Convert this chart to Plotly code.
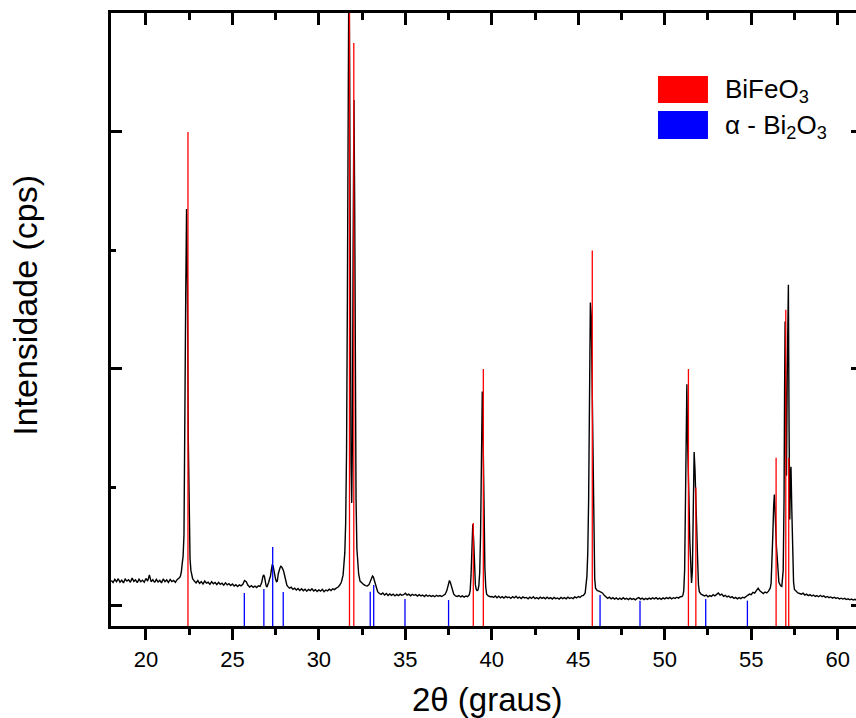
import plotly.graph_objects as go

# ---------------- data ----------------
two_theta = [
    18.0, 18.1, 18.2, 18.3, 18.4, 18.5, 18.6, 18.7, 18.8, 18.9,
    19.0, 19.1, 19.2, 19.3, 19.4, 19.5, 19.6, 19.7, 19.8, 19.9,
    20.0, 20.1, 20.2, 20.3, 20.4, 20.5, 20.6, 20.7, 20.8, 20.9,
    21.0, 21.1, 21.2, 21.3, 21.4, 21.5, 21.6, 21.7, 21.8, 21.9,
    21.95, 22.0, 22.05, 22.1, 22.15, 22.2, 22.25, 22.3, 22.35, 22.4,
    22.45, 22.5, 22.55, 22.6, 22.65, 22.7,
    22.8, 22.9, 23.0, 23.1, 23.2, 23.3, 23.4, 23.5, 23.6, 23.7,
    23.8, 23.9, 24.0, 24.1, 24.2, 24.3, 24.4, 24.5, 24.6, 24.7,
    24.8, 24.9, 25.0, 25.1, 25.2, 25.3, 25.4, 25.5, 25.6, 25.7,
    25.8, 25.9, 26.0, 26.1, 26.2, 26.3, 26.4, 26.5, 26.6,
    26.7, 26.75, 26.8, 26.85, 26.9, 26.95, 27.0, 27.05, 27.1, 27.15,
    27.2, 27.25, 27.3, 27.35, 27.4, 27.45, 27.5, 27.55, 27.6, 27.65,
    27.7, 27.75, 27.8, 27.85, 27.9, 27.95, 28.0, 28.05, 28.1, 28.15,
    28.2, 28.3, 28.4, 28.5, 28.6, 28.7, 28.8, 28.9, 29.0, 29.1,
    29.2, 29.3, 29.4, 29.5, 29.6, 29.7, 29.8, 29.9, 30.0, 30.1,
    30.2, 30.3, 30.4, 30.5, 30.6, 30.7, 30.8, 30.9, 31.0, 31.1,
    31.2, 31.3, 31.4, 31.45, 31.5, 31.55, 31.6, 31.65, 31.7, 31.74,
    31.78, 31.82, 31.86, 31.9, 31.94, 31.98, 32.03, 32.07, 32.11, 32.15,
    32.2, 32.25, 32.3, 32.38, 32.5, 32.6, 32.7, 32.8, 32.9, 33.0,
    33.05, 33.1, 33.15, 33.2, 33.3, 33.4, 33.5, 33.6, 33.7, 33.8,
    33.9, 34.0, 34.1, 34.2, 34.3, 34.4, 34.5, 34.6, 34.7, 34.8,
    34.9, 35.0, 35.1, 35.2, 35.3, 35.4, 35.5, 35.6, 35.7, 35.8,
    35.9, 36.0, 36.1, 36.2, 36.3, 36.4, 36.5, 36.6, 36.7, 36.8,
    36.9, 37.0, 37.1, 37.2, 37.3, 37.4, 37.5, 37.55, 37.6, 37.7,
    37.8, 37.9, 38.0, 38.1, 38.2, 38.3, 38.4, 38.5, 38.6, 38.7,
    38.75, 38.8, 38.85, 38.9, 38.95, 39.0, 39.05, 39.1, 39.15, 39.2,
    39.25, 39.3, 39.35, 39.4, 39.45, 39.5, 39.55, 39.6, 39.65, 39.7,
    39.8, 39.9,
    40.0, 40.1, 40.2, 40.3, 40.4, 40.5, 40.6, 40.7, 40.8, 40.9,
    41.0, 41.1, 41.2, 41.3, 41.4, 41.5, 41.6, 41.7, 41.8, 41.9,
    42.0, 42.1, 42.2, 42.3, 42.4, 42.5, 42.6, 42.7, 42.8, 42.9,
    43.0, 43.1, 43.2, 43.3, 43.4, 43.5, 43.6, 43.7, 43.8, 43.9,
    44.0, 44.1, 44.2, 44.3, 44.4, 44.5, 44.6, 44.7, 44.8, 44.9,
    45.0, 45.1, 45.2, 45.3, 45.4, 45.45, 45.5, 45.55, 45.6, 45.65,
    45.7, 45.75, 45.8, 45.85, 45.9, 45.95, 46.0, 46.1, 46.2, 46.3,
    46.4, 46.5,
    46.6, 46.7, 46.8, 46.9, 47.0, 47.1, 47.2, 47.3, 47.4, 47.5,
    47.6, 47.7, 47.8, 47.9, 48.0, 48.1, 48.2, 48.3, 48.4, 48.5,
    48.6, 48.7, 48.8, 48.9, 49.0, 49.1, 49.2, 49.3, 49.4, 49.5,
    49.6, 49.7, 49.8, 49.9, 50.0, 50.1, 50.2, 50.3, 50.4, 50.5,
    50.6, 50.7, 50.8, 50.9, 51.0,
    51.05, 51.1, 51.15, 51.2, 51.25, 51.28, 51.32, 51.36, 51.4, 51.45,
    51.5, 51.55, 51.6, 51.65, 51.7, 51.75, 51.8, 51.85, 51.9, 51.95,
    52.0, 52.1,
    52.2, 52.3, 52.4, 52.5, 52.6, 52.7, 52.8, 52.9, 53.0, 53.1,
    53.2, 53.3, 53.4, 53.5, 53.6, 53.7, 53.8, 53.9, 54.0, 54.1,
    54.2, 54.3, 54.4, 54.5, 54.6, 54.7, 54.8, 54.9, 55.0, 55.1,
    55.2, 55.3, 55.4, 55.5, 55.6, 55.7, 55.8, 55.9, 56.0, 56.05,
    56.1, 56.15, 56.2, 56.25, 56.3, 56.34, 56.38, 56.42, 56.46, 56.5,
    56.55, 56.6, 56.7, 56.77, 56.85, 56.9, 56.93, 56.96, 57.0, 57.04,
    57.08, 57.12, 57.15, 57.19, 57.23, 57.27, 57.3, 57.35, 57.4, 57.45,
    57.5, 57.6, 57.7, 57.8, 57.9,
    58.0, 58.1, 58.2, 58.3, 58.4, 58.5, 58.6, 58.7, 58.8, 58.9,
    59.0, 59.1, 59.2, 59.3, 59.4, 59.5, 59.6, 59.7, 59.8, 59.9,
    60.0, 60.1, 60.2, 60.3, 60.4, 60.5, 60.6, 60.7, 60.8, 60.9,
    61.0, 61.1,
]
counts = [
    215, 198, 225, 205, 230, 200, 218, 195, 228, 210,
    222, 200, 235, 208, 220, 196, 226, 205, 218, 200,
    232, 210, 262, 205, 222, 198, 225, 203, 216, 195,
    228, 205, 220, 198, 224, 206, 215, 200, 222, 230,
    240, 255, 290, 360, 420, 600, 1300, 2600, 3350, 2700,
    1400, 700, 400, 300, 250, 230,
    210, 195, 215, 190, 205, 185, 210, 192, 200, 182,
    205, 188, 198, 180, 200, 183, 192, 176, 195, 178,
    188, 172, 185, 168, 180, 165, 178, 170, 182, 215,
    205, 175, 160, 172, 158, 168, 155, 170, 165,
    200, 240, 262, 250, 200, 170, 160, 175, 200, 230,
    250, 300, 345, 340, 290, 250, 225, 205, 210, 270,
    305, 320, 335, 330, 315, 300, 270, 230, 195, 175,
    165, 150, 158, 140, 150, 135, 148, 130, 145, 128,
    142, 125, 140, 130, 145, 127, 138, 122, 136, 125,
    140, 120, 135, 128, 142, 130, 145, 138, 150, 158,
    175, 200, 260, 330, 450, 700, 1300, 2600, 4500, 5600,
    4500, 2500, 1200, 870, 1400, 3000, 4270, 3400, 1800, 900,
    480, 330, 270, 210, 190, 180, 172, 168, 180, 215,
    240, 253, 245, 220, 160, 120, 105, 98, 110, 92,
    105, 88, 102, 90, 100, 85, 98, 88, 100, 90,
    95, 108, 92, 100, 86, 98, 90, 96, 84, 95,
    85, 92, 80, 93, 82, 90, 80, 88, 78, 90,
    82, 88, 80, 92, 98, 130, 190, 215, 200, 140,
    100, 85, 80, 88, 76, 85, 75, 84, 78, 95,
    130, 260, 500, 690, 560, 300, 180, 140, 130, 135,
    170, 280, 600, 1200, 1810, 1400, 700, 320, 160, 100,
    85, 78,
    80, 72, 85, 70, 82, 68, 78, 66, 80, 70,
    76, 64, 78, 68, 82, 66, 75, 62, 76, 68,
    72, 60, 75, 64, 78, 62, 70, 60, 74, 64,
    72, 60, 74, 62, 70, 58, 72, 62, 68, 58,
    72, 62, 70, 60, 74, 64, 70, 62, 76, 68,
    80, 72, 86, 90, 110, 160, 250, 450, 900, 1750,
    2560, 2450, 1900, 1200, 500, 230, 150, 130, 125, 118,
    110, 90,
    78, 64, 74, 60, 70, 58, 68, 55, 66, 56,
    70, 58, 64, 54, 66, 56, 62, 52, 64, 70,
    58, 66, 54, 64, 56, 66, 58, 68, 60, 70,
    58, 66, 56, 68, 60, 70, 62, 72, 60, 70,
    64, 74, 66, 78, 80,
    90, 130, 300, 900, 1700, 1870, 1400, 950, 900, 550,
    250, 195, 300, 800, 1300, 1150, 800, 650, 400, 180,
    120, 100,
    95, 85, 92, 78, 88, 80, 95, 85, 98, 110,
    92, 100, 82, 90, 76, 84, 70, 78, 64, 72,
    60, 70, 62, 74, 68, 82, 90, 100, 95, 115,
    108, 130, 150, 128, 120, 105, 118, 110, 125, 135,
    150, 190, 350, 600, 850, 940, 800, 560, 500, 420,
    260, 200, 170, 165, 300, 900, 1800, 2400, 1700, 1100,
    1900, 2600, 2710, 1500, 730, 1100, 1175, 800, 400, 200,
    140, 120, 110, 105, 100,
    108, 92, 100, 88, 96, 84, 92, 80, 88, 78,
    90, 78, 85, 72, 80, 70, 76, 66, 74, 64,
    70, 60, 66, 58, 64, 54, 60, 52, 58, 50,
    56, 48,
]

# reference pattern sticks
bifeo3_pos = [22.43, 31.77, 32.02, 38.93, 39.51, 45.81, 51.37, 51.80, 56.44, 57.00, 57.17]
bifeo3_int = [4000, 5600, 4750, 700, 2000, 3000, 2000, 1000, 1250, 2500, 1250]
bi2o3_pos = [25.69, 26.82, 27.33, 27.94, 32.97, 33.17, 34.98, 37.50, 46.26, 48.57, 52.37, 54.78]
bi2o3_int = [110, 143, 498, 118, 121, 177, 59, 50, 93, 45, 59, 45]

x_ticks = [20, 25, 30, 35, 40, 45, 50, 55, 60]
y_major = [0, 2000, 4000]
x_title = "2θ (graus)"
y_title = "Intensidade (cps)"
legend_labels = ["BiFeO<sub>3</sub>", "α - Bi<sub>2</sub>O<sub>3</sub>"]

# ---------------- figure ----------------
X_RANGE = [17.98, 61.06]
Y_RANGE = [-169, 5004]
STICK_BASE = -400


def sticks(pos, hts):
    xs, ys = [], []
    for p, h in zip(pos, hts):
        xs += [p, p, None]
        ys += [STICK_BASE, h, None]
    return xs, ys


fig = go.Figure()
fig.add_trace(go.Scatter(x=two_theta, y=counts, mode="lines",
                         line=dict(color="black", width=1.4), showlegend=False,
                         hoverinfo="skip"))
bx, by = sticks(bifeo3_pos, bifeo3_int)
fig.add_trace(go.Scatter(x=bx, y=by, mode="lines", line=dict(color="#ff0000", width=1.3),
                         showlegend=False, hoverinfo="skip"))
ax, ay = sticks(bi2o3_pos, bi2o3_int)
fig.add_trace(go.Scatter(x=ax, y=ay, mode="lines", line=dict(color="#0000ff", width=1.3),
                         showlegend=False, hoverinfo="skip"))
# invisible traces to anchor the mirrored top / right axes
fig.add_trace(go.Scatter(x=[X_RANGE[0]], y=[Y_RANGE[0]], xaxis="x2", mode="markers",
                         marker=dict(opacity=0), showlegend=False, hoverinfo="skip"))
fig.add_trace(go.Scatter(x=[X_RANGE[0]], y=[Y_RANGE[0]], yaxis="y2", mode="markers",
                         marker=dict(opacity=0), showlegend=False, hoverinfo="skip"))

FONT = "Liberation Sans, Arial, sans-serif"

fig.update_layout(
    width=856, height=718,
    margin=dict(l=111, r=0, t=13, b=92),
    paper_bgcolor="white", plot_bgcolor="white",
    font=dict(family=FONT, color="black"),
    xaxis=dict(range=X_RANGE, tickvals=x_ticks, ticks="outside", ticklen=11, tickwidth=2.5,
               tickcolor="black", showline=True, linewidth=3, linecolor="black",
               showgrid=False, zeroline=False, tickfont=dict(size=22, family=FONT),
               minor=dict(dtick=2.5, tick0=0, ticks="outside", ticklen=6, tickwidth=2.5,
                          tickcolor="black"),
               ticklabelstandoff=1),
    xaxis2=dict(range=X_RANGE, overlaying="x", side="top", tickvals=x_ticks, ticks="inside",
                ticklen=12, tickwidth=2.5, tickcolor="black", showline=True, linewidth=3,
                linecolor="black", showgrid=False, zeroline=False, showticklabels=False,
                minor=dict(dtick=2.5, tick0=0, ticks="inside", ticklen=7, tickwidth=2.5,
                           tickcolor="black")),
    yaxis=dict(range=Y_RANGE, tickvals=y_major, ticks="inside", ticklen=11,
               tickwidth=2.5, tickcolor="black", showline=True, linewidth=3,
               linecolor="black", showgrid=False, zeroline=False, showticklabels=False,
               minor=dict(dtick=1000, tick0=0, ticks="inside", ticklen=5, tickwidth=2.5,
                          tickcolor="black")),
    yaxis2=dict(range=Y_RANGE, overlaying="y", side="right", tickvals=y_major,
                ticks="inside", ticklen=5, tickwidth=2.5, tickcolor="black",
                showline=False, showgrid=False, zeroline=False, showticklabels=False),
)

annotations = [
    dict(text=x_title, xref="paper", yref="paper", x=0.5047, y=-0.12, xanchor="center",
         yanchor="middle", showarrow=False, font=dict(size=33, family=FONT)),
    dict(text=y_title, xref="paper", yref="paper", x=-0.1157, y=0.5237, xanchor="center",
         yanchor="middle", textangle=-90, showarrow=False, font=dict(size=34, family=FONT)),
]
legend_colors = ["#ff0000", "#0000ff"]
legend_rows = [(0.8532, 0.8972, 0.874), (0.7945, 0.8401, 0.815)]
for lab, col, (y0, y1, yt) in zip(legend_labels, legend_colors, legend_rows):
    fig.add_shape(type="rect", xref="paper", yref="paper", x0=0.7342, x1=0.8013,
                  y0=y0, y1=y1, fillcolor=col, line=dict(width=0))
    annotations.append(dict(text=lab, xref="paper", yref="paper", x=0.8215, y=yt,
                            xanchor="left", yanchor="middle", showarrow=False,
                            font=dict(size=26, family=FONT)))
fig.update_layout(annotations=annotations)

# remove the default page margin so the figure fills the window exactly
fig.write_html("out.html",
               config={"displayModeBar": False},
               post_script="document.body.style.margin='0';"
                           "document.body.style.overflow='hidden';")
